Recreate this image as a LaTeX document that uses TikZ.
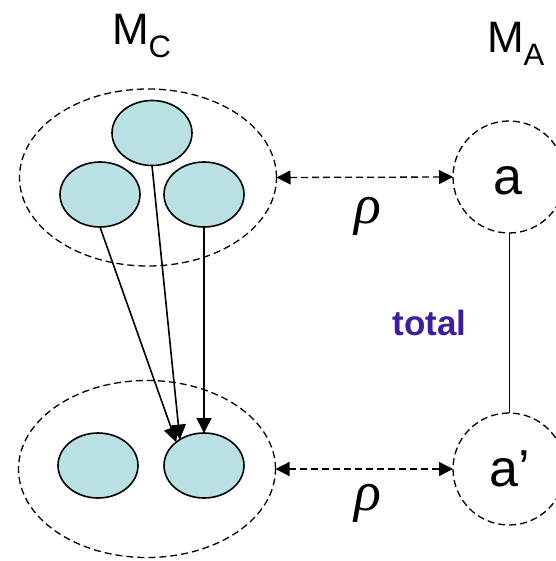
\documentclass[tikz,border=0pt]{standalone}
\usepackage{fontspec}
\setmainfont{Liberation Sans}
\newfontfamily\rhofont{Liberation Serif}
\usetikzlibrary{shapes.geometric,arrows.meta}
\definecolor{cellfill}{RGB}{185,224,226}
\definecolor{totalcol}{RGB}{62,30,158}
\begin{document}
\begin{tikzpicture}[x=1pt,y=-1pt,
  cell/.style={ellipse,draw=black,line width=1.6pt,fill=cellfill,minimum width=80pt,minimum height=65pt,inner sep=0pt,outer sep=0pt},
  group/.style={ellipse,draw=black,line width=1.3pt,dash pattern=on 7pt off 4pt,minimum width=257pt,minimum height=177pt,inner sep=0pt,outer sep=0pt},
  abs/.style={circle,draw=black,line width=1.3pt,dash pattern=on 7pt off 4pt,minimum size=112pt,inner sep=0pt,outer sep=0pt},
  corr/.style={line width=1.3pt,dash pattern=on 7pt off 4pt,{Triangle[length=14pt,width=14pt]}-{Triangle[length=14pt,width=14pt]}},
  map/.style={line width=1.6pt,-{Triangle[length=15pt,width=15pt]}},
  lbl/.style={inner sep=0pt,outer sep=0pt},
  rholbl/.style={inner sep=0pt,outer sep=0pt,font=\rhofont\itshape\fontsize{56}{56}\selectfont}
]
\useasboundingbox (0,0) rectangle (555,561);
% groups
\node[group] (T) at (148,177.5) {};
\node[group] (B) at (147,469) {};
% cells
\node[cell] (t0) at (152,133) {};
\node[cell] (t1) at (100,194.5) {};
\node[cell] (t2) at (204,194.5) {};
\node[cell] (b1) at (98,465.5) {};
\node[cell] (b2) at (204,465.5) {};
% abstract states
\node[abs] (a) at (509,177) {};
\node[abs] (ap) at (509,469) {};
\node[lbl,anchor=base] (la) at (508,195) {\fontsize{52}{52}\selectfont a};
\node[lbl,anchor=base] (lap) at (510,486) {\fontsize{52}{52}\selectfont a’};
% labels
\node[lbl,anchor=base west] (mc) at (112,45) {\fontsize{44}{44}\selectfont M\raisebox{-13pt}{\fontsize{31}{31}\selectfont C}};
\node[lbl,anchor=base west] (ma) at (487,53) {\fontsize{44}{44}\selectfont M\raisebox{-13pt}{\fontsize{31}{31}\selectfont A}};
\node[lbl,anchor=base,text=totalcol] (tot) at (429.5,335) {\fontsize{35}{35}\selectfont\bfseries total};
\node[rholbl] (r1) at (368,216) {ρ};
\node[rholbl] (r2) at (368,503) {ρ};
% connectors
\draw[corr] (T.east) -- (a.west);
\draw[corr] (B.east) -- (ap.west);
\draw[line width=0.8pt] (a.south) -- (ap.north);
\draw[map] (t1.south) -- (b2.140);
\draw[map] (t0.south) -- (b2.133);
\draw[map] (t2.south) -- (b2.north);
\end{tikzpicture}
\end{document}
